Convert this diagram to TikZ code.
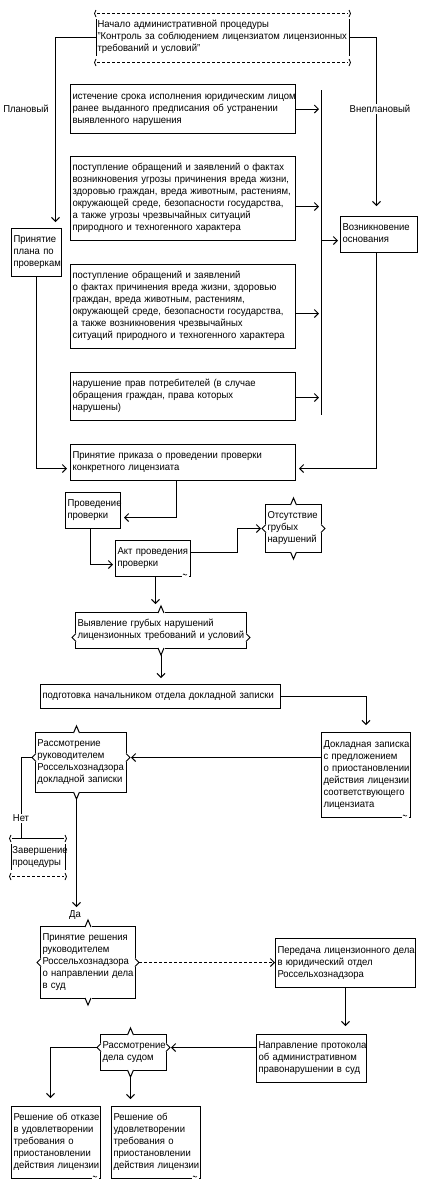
\documentclass[tikz,border=0pt]{standalone}
\usepackage{fontspec}
\setmainfont{Liberation Sans}[FakeStretch=0.95]
\usetikzlibrary{arrows.meta,calc}
\newcommand{\btxt}[1]{\begin{tabular}{@{}l@{}}#1\end{tabular}}
\newcommand{\mktop}[1]{\path (#1) coordinate (mk);
  \fill[white] ($(mk)+(-3.5,-0.8)$) rectangle ($(mk)+(3.5,0.8)$);
  \draw ($(mk)+(-3,1)$) -- ($(mk)+(0,-6)$) -- ($(mk)+(3,1)$);}
\newcommand{\mkbot}[1]{\path (#1) coordinate (mk);
  \fill[white] ($(mk)+(-3.5,-0.8)$) rectangle ($(mk)+(3.5,0.8)$);
  \draw ($(mk)+(-3,-1)$) -- ($(mk)+(0,6)$) -- ($(mk)+(3,-1)$);}
\newcommand{\mkleft}[1]{\path (#1) coordinate (mk);
  \fill[white] ($(mk)+(-0.8,-4.5)$) rectangle ($(mk)+(0.8,4.5)$);
  \draw ($(mk)+(1,-4)$) -- ($(mk)+(-3,0)$) -- ($(mk)+(1,4)$);}
\newcommand{\mkright}[1]{\path (#1) coordinate (mk);
  \fill[white] ($(mk)+(-0.8,-4.5)$) rectangle ($(mk)+(0.8,4.5)$);
  \draw ($(mk)+(-1,-4)$) -- ($(mk)+(3,0)$) -- ($(mk)+(-1,4)$);}
\newcommand{\mkdoc}[1]{\path (#1.south east) coordinate (mk);
  \fill[white] ($(mk)+(-9,-0.6)$) rectangle ($(mk)+(-2,0.6)$);
  \draw[line width=0.6pt] ($(mk)+(-8,-2.5)$) .. controls ($(mk)+(-7,-4.5)$) and ($(mk)+(-6,-0.5)$) .. ($(mk)+(-4,-2.5)$);}
\newcommand{\termframe}[2]{%
  \draw[#2] ($(#1.north west)+(3,0)$) -- ($(#1.north east)+(-3,0)$);
  \draw[dsh] ($(#1.south west)+(3,0)$) -- ($(#1.south east)+(-3,0)$);
  \draw ($(#1.north west)+(2,6)$) -- ($(#1.south west)+(2,-6)$);
  \draw ($(#1.north east)+(-2,6)$) -- ($(#1.south east)+(-2,-6)$);
  \draw[line width=0.8pt] ($(#1.north west)+(2,-3)$) .. controls ($(#1.north west)+(0,-1)$) and ($(#1.north west)+(0,2)$) .. ($(#1.north west)+(2,4)$);
  \draw[line width=0.8pt] ($(#1.south west)+(2,-3)$) .. controls ($(#1.south west)+(0,-1)$) and ($(#1.south west)+(0,2)$) .. ($(#1.south west)+(2,4)$);
  \draw[line width=0.8pt] ($(#1.north east)+(-2,-3)$) .. controls ($(#1.north east)+(0,-1)$) and ($(#1.north east)+(0,2)$) .. ($(#1.north east)+(-2,4)$);
  \draw[line width=0.8pt] ($(#1.south east)+(-2,-3)$) .. controls ($(#1.south east)+(0,-1)$) and ($(#1.south east)+(0,2)$) .. ($(#1.south east)+(-2,4)$);}
\begin{document}
\begin{tikzpicture}[x=1pt,y=-1pt,line width=1pt,
  box/.style={draw, anchor=north west, inner xsep=2pt, inner ysep=0pt, align=left, font=\fontsize{10}{12}\selectfont},
  plainbox/.style={anchor=north west, inner xsep=3pt, inner ysep=0pt, align=left, font=\fontsize{10}{12}\selectfont},
  lbl/.style={font=\fontsize{10}{12}\selectfont, inner sep=1pt},
  arr/.style={-{Straight Barb[length=4pt,width=8pt]}},
  dsh/.style={dash pattern=on 3pt off 2pt}]
\useasboundingbox[fill=white] (0,0) rectangle (423,1192);

% nodes
\node[plainbox, text width=250pt, minimum height=48pt] (start) at (94,13)
  {\btxt{Начало административной процедуры\\"Контроль за соблюдением лицензиатом лицензионных\\требований и условий"}};
\node[box, text width=221pt, minimum height=49pt] (b1) at (70,84)
  {\btxt{истечение срока исполнения юридическим лицом\\ранее выданного предписания об устранении\\выявленного нарушения}};
\node[box, text width=221pt, minimum height=84pt] (b2) at (70,156)
  {\btxt{поступление обращений и заявлений о фактах\\возникновения угрозы причинения вреда жизни,\\здоровью граждан, вреда животным, растениям,\\окружающей среде, безопасности государства,\\а также угрозы чрезвычайных ситуаций\\природного и техногенного характера}};
\node[box, text width=221pt, minimum height=84pt] (b3) at (70,264)
  {\btxt{поступление обращений и заявлений\\о фактах причинения вреда жизни, здоровью\\граждан, вреда животным, растениям,\\окружающей среде, безопасности государства,\\а также возникновения чрезвычайных\\ситуаций природного и техногенного характера}};
\node[box, text width=221pt, minimum height=48pt] (b4) at (70,372)
  {\btxt{нарушение прав потребителей (в случае\\обращения граждан, права которых\\нарушены)}};
\node[box, text width=46pt, minimum height=48pt] (plan) at (11,228)
  {\btxt{Принятие\\плана по\\проверкам}};
\node[box, text width=73pt, minimum height=36pt] (osn) at (340,216)
  {\btxt{Возникновение\\основания}};
\node[box, text width=221pt, minimum height=36pt] (prikaz) at (70,444)
  {\btxt{Принятие приказа о проведении проверки\\конкретного лицензиата}};
\node[box, text width=51pt, minimum height=36pt] (prov) at (65,492)
  {\btxt{Проведение\\проверки}};
\node[box, text width=71pt, minimum height=36pt] (akt) at (115,540)
  {\btxt{Акт проведения\\проверки}};
\node[box, text width=52pt, minimum height=48pt] (ots) at (265,504)
  {\btxt{Отсутствие\\грубых\\нарушений}};
\node[box, text width=167pt, minimum height=36pt] (vyav) at (75,612)
  {\btxt{Выявление грубых нарушений\\лицензионных требований и условий}};
\node[box, text width=236pt, minimum height=24pt] (podg) at (40,684)
  {\btxt{подготовка начальником отдела докладной записки}};
\node[box, text width=85pt, minimum height=85pt] (dokl) at (321,732)
  {\btxt{Докладная записка\\с предложением\\о приостановлении\\действия лицензии\\соответствующего\\лицензиата}};
\node[box, text width=87pt, minimum height=60pt] (rass) at (35,732)
  {\btxt{Рассмотрение\\руководителем\\Россельхознадзора\\докладной записки}};
\node[plainbox, text width=51pt, minimum height=37pt] (zav) at (9,838)
  {\btxt{Завершение\\процедуры}};
\node[box, text width=91pt, minimum height=72pt] (prin) at (40,926)
  {\btxt{Принятие решения\\руководителем\\Россельхознадзора\\о направлении дела\\в суд}};
\node[box, text width=136pt, minimum height=49pt] (pered) at (275,938)
  {\btxt{Передача лицензионного дела\\в юридический отдел\\Россельхознадзора}};
\node[box, text width=106pt, minimum height=48pt] (napr) at (256,1034)
  {\btxt{Направление протокола\\об административном\\правонарушении в суд}};
\node[box, text width=62pt, minimum height=36pt] (rassd) at (100,1034)
  {\btxt{Рассмотрение\\дела судом}};
\node[box, text width=85pt, minimum height=72pt] (otk) at (11,1106)
  {\btxt{Решение об отказе\\в удовлетворении\\требования о\\приостановлении\\действия лицензии}};
\node[box, text width=85pt, minimum height=72pt] (udov) at (111,1106)
  {\btxt{Решение об\\удовлетворении\\требования о\\приостановлении\\действия лицензии}};

\coordinate (bart) at (321,90);
\coordinate (barb) at (321,415);

% connectors
\draw[arr, shorten >=6pt] ([xshift=2pt]start.west) -| ([xshift=19pt]plan.north);
\draw[arr, shorten >=10pt] ([xshift=-2pt]start.east) -| ([xshift=-2.5pt]osn.north);
\draw (bart) -- (barb);
\draw[arr, shorten >=3pt] (b1.east) -- ++(26,0);
\draw[arr, shorten >=3pt] ([yshift=-8pt]b2.east) -- ++(26,0);
\draw[arr, shorten >=3pt] ([yshift=-7pt]b3.east) -- ++(26,0);
\draw[arr, shorten >=3pt] ([yshift=-1pt]b4.east) -- ++(26,0);
\draw[arr, shorten >=2pt] ([yshift=-6pt]osn.west) ++(-19,0) -- ([yshift=-6pt]osn.west);
\draw[arr, shorten >=3pt] ([xshift=-2.5pt]osn.south) |- ([yshift=-6pt]prikaz.east);
\draw[arr, shorten >=3pt] (plan.south) |- ([yshift=-6pt]prikaz.west);
\draw[arr, shorten >=3pt] ([xshift=-6.5pt]prikaz.south) |- ([yshift=-7pt]prov.east);
\draw[arr, shorten >=2pt] ([xshift=-2.5pt]prov.south) |- ([yshift=-6pt]akt.west);
\draw[arr, shorten >=4pt] ([yshift=6pt]akt.east) -- ++(46,0) |- (ots.west);
\draw[arr, shorten >=9pt] ([xshift=2.5pt]akt.south) -- ++(0,36);
\draw[arr, shorten >=7pt] ([yshift=-6pt]vyav.south) -- ++(0,30);
\draw[arr, shorten >=7pt] (podg.east) -| (dokl.north);
\draw[arr, shorten >=5pt] ([yshift=17.5pt]dokl.west) -- ++(-195,0);
\draw ([xshift=-3pt,yshift=5pt]rass.west) -| ([xshift=-16.5pt]zav.north);
\draw[arr, shorten >=20pt] ([xshift=-4.5pt,yshift=-6pt]rass.south) -- ++(0,128);
\draw[arr, dsh] ([xshift=3pt]prin.east) -- (prin.east -| pered.west);
\draw[arr, shorten >=8pt] (pered.south) -- (pered.south |- napr.north);
\draw[arr, shorten >=5pt] ([yshift=11pt]napr.west) -- ++(-90,0);
\draw[arr, shorten >=8pt] ([xshift=-3pt,yshift=5pt]rassd.west) -| ([xshift=-5.5pt]otk.north);
\draw[arr, shorten >=8pt] ([xshift=-3pt,yshift=-6pt]rassd.south) -- ++(0,30);

% terminal frames
\termframe{start}{dsh}
\termframe{zav}{}

% decision markers
\mktop{ots.north} \mkbot{ots.south} \mkleft{ots.west} \mkright{ots.east}
\mktop{vyav.north} \mkbot{vyav.south} \mkleft{[yshift=-7pt]vyav.west} \mkright{[yshift=-7pt]vyav.east}
\mktop{[xshift=-4.5pt]rass.north} \mkbot{[xshift=-4.5pt]rass.south} \mkleft{[yshift=5pt]rass.west} \mkright{[yshift=5pt]rass.east}
\mktop{prin.north} \mkbot{prin.south} \mkleft{prin.west} \mkright{prin.east}
\mktop{[xshift=-3pt]rassd.north} \mkbot{[xshift=-3pt]rassd.south} \mkleft{[yshift=5pt]rassd.west} \mkright{[yshift=5pt]rassd.east}

% document corners
\mkdoc{akt} \mkdoc{dokl} \mkdoc{otk} \mkdoc{udov}

% labels
\node[lbl] (lplan) at (26,109) {Плановый};
\node[lbl, fill=white] (lvne) at (380,109) {Внеплановый};
\node[lbl, fill=white] (lnet) at (21,818) {Нет};
\node[lbl] (lda) at (75,915) {Да};
\end{tikzpicture}
\end{document}
